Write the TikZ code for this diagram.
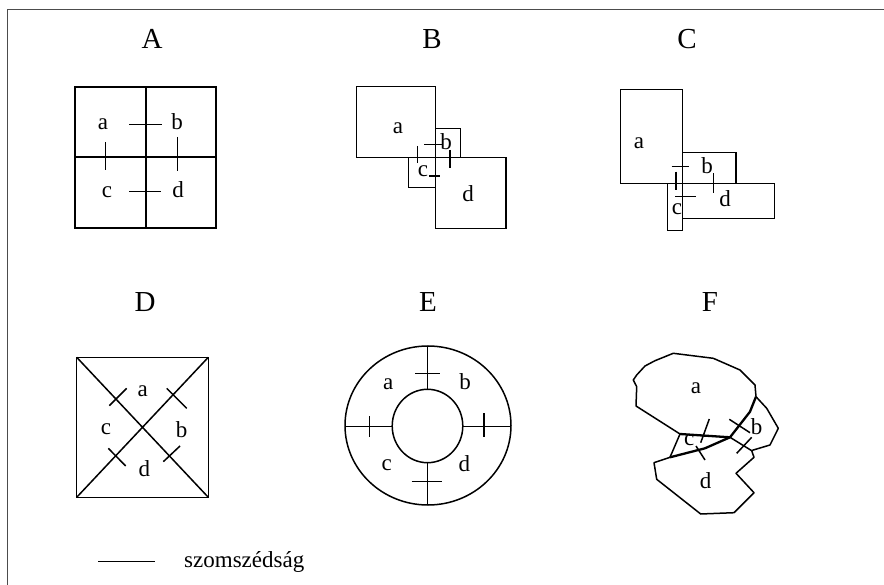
\documentclass[tikz,border=0pt]{standalone}
\usepackage{fontspec}
\setmainfont{Liberation Serif}
\begin{document}
\begin{tikzpicture}[x=1pt,y=-1pt,
  ln/.style={line width=1.5pt,line join=miter},
  thk/.style={line width=2.3pt,line join=round},
  tick/.style={line width=1.5pt},
  lbl/.style={anchor=base,inner sep=0pt,font=\fontsize{23}{25}\selectfont},
  ttl/.style={anchor=base,inner sep=0pt,font=\fontsize{29}{32}\selectfont}]
\useasboundingbox (0,0) rectangle (884,585);
% frame
\draw[line width=1.5pt,black!70] (7.5,585) -- (7.5,9.5) -- (884,9.5);

% ---------- A ----------
\node[ttl] (tA) at (152,49) {A};
\draw[ln] (75,87) rectangle (216,228);
\draw[ln] (146,87) -- (146,228) (75,157) -- (216,157);
\draw[tick] (129,124.3) -- (161.5,124.3) (129,191.7) -- (160.5,191.7)
            (105.7,142.5) -- (105.7,170) (177.7,137) -- (177.7,171.5);
\node[lbl] (Aa) at (103,130) {a};
\node[lbl] (Ab) at (177,130) {b};
\node[lbl] (Ac) at (107,198) {c};
\node[lbl] (Ad) at (178,198) {d};

% ---------- B ----------
\node[ttl] (tB) at (432,49) {B};
\draw[ln] (356.7,86.7) rectangle (435.7,157.7);
\draw[ln] (435.7,128.3) rectangle (460.7,157.7);
\draw[ln] (408.3,157.7) rectangle (435.7,187.3);
\draw[ln] (435.7,157.7) rectangle (506,228.3);
\draw[tick] (424.3,144.3) -- (442.7,144.3) (429.3,176) -- (440,176)
            (417.3,146) -- (417.3,162.7) (450,150) -- (450,168.3);
\node[lbl] (Ba) at (398,134) {a};
\node[lbl] (Bb) at (446,149.5) {b};
\node[lbl] (Bc) at (423,176.7) {c};
\node[lbl] (Bd) at (468,201.7) {d};

% ---------- C ----------
\node[ttl] (tC) at (687,49) {C};
\draw[ln] (620.7,89.3) rectangle (682.3,183.7);
\draw[ln] (682.3,152.7) rectangle (736,183.7);
\draw[ln] (667.3,183.7) rectangle (682.3,230.7);
\draw[ln] (682.3,183.7) rectangle (774.3,218.3);
\draw[tick] (671.7,166.7) -- (689,166.7) (675,196.7) -- (696,196.7)
            (676,171.7) -- (676,190) (713.3,173.3) -- (713.3,193.3);
\node[lbl] (Ca) at (639,148.3) {a};
\node[lbl] (Cb) at (707,174) {b};
\node[lbl] (Cc) at (677,215) {c};
\node[lbl] (Cd) at (725,206.7) {d};

% ---------- D ----------
\node[ttl] (tD) at (145,312) {D};
\draw[ln] (76.7,357.3) rectangle (208.3,497.3);
\draw[ln] (76.7,357.3) -- (208.3,497.3) (76.7,497.3) -- (208.3,357.3);
\draw[tick] (109.3,405.7) -- (126.7,388.3) (166.7,388.3) -- (186.7,408.3)
            (108.3,448.3) -- (125.7,466) (163.3,461.7) -- (180,446);
\node[lbl] (Da) at (142.7,396) {a};
\node[lbl] (Db) at (181.7,437.3) {b};
\node[lbl] (Dc) at (106,434) {c};
\node[lbl] (Dd) at (144.3,476.7) {d};

% ---------- E ----------
\node[ttl] (tE) at (428,312) {E};
\draw[ln] (428,425.5) ellipse [x radius=83, y radius=79.5];
\draw[ln] (427.5,426) ellipse [x radius=35.3, y radius=36.7];
\draw[ln] (427.7,346) -- (427.7,389.3) (427.7,462.7) -- (427.7,505)
          (345,426.5) -- (392.2,426.5) (462.8,426.5) -- (511,426.5);
\draw[tick] (415,373.3) -- (440,373.3) (411.7,481.7) -- (441.7,481.7)
            (369.3,416) -- (369.3,437.3) (484,413.3) -- (484,437.3);
\node[lbl] (Ea) at (388.3,390) {a};
\node[lbl] (Eb) at (465,389.3) {b};
\node[lbl] (Ec) at (386.7,470) {c};
\node[lbl] (Ed) at (464.3,471.7) {d};

% ---------- F ----------
\node[ttl] (tF) at (710,312) {F};
\coordinate (J) at (730,437.3);
% region a
\draw[ln,line join=round] (756,396.7) -- (755,385) -- (740,370) -- (713.3,358.3)
  -- (673.3,353.3) -- (655,360.7) -- (645,366) -- (636.7,375) -- (633.3,380)
  -- (636.7,386.7) -- (636,406) -- (680,434);
% region b
\draw[ln,line join=round] (756,396.7) -- (766.7,408.3) -- (778.3,428.3)
  -- (770,445) -- (753.3,450) -- (751.7,450.7);
% region d
\draw[ln,line join=round] (751.7,450.7) -- (754,457.3) -- (736,473.3) -- (754,492.7)
  -- (734,512.7) -- (700.7,514) -- (656.7,479.3) -- (654,462.7) -- (670,457.3);
% region c, left side
\draw[ln] (670,457.3) -- (680,434);
% shared borders
\draw[thk] (756,396.7) -- (750,411.7) -- (J);
\draw[thk] (680,434) -- (J);
\draw[thk] (670,457.3) -- (705,448.3) -- (J);
\draw[ln] (J) -- (751.7,450.7);
\draw[tick] (709.3,419) -- (700.7,442.7) (729.3,419.3) -- (750,432.7)
            (696,446) -- (705,460) (751.7,437.3) -- (736.7,453.3);
\node[lbl] (Fa) at (696,394) {a};
\node[lbl] (Fb) at (756.7,434) {b};
\node[lbl] (Fc) at (689.3,446) {c};
\node[lbl] (Fd) at (705.7,488.3) {d};

% ---------- legend ----------
\coordinate (L1) at (98.3,561.7);
\coordinate (L2) at (155.3,561.7);
\draw[ln] (L1) -- (L2);
\node[lbl,anchor=base west] (leg) at (184,567) {szomszédság};
\end{tikzpicture}
\end{document}
